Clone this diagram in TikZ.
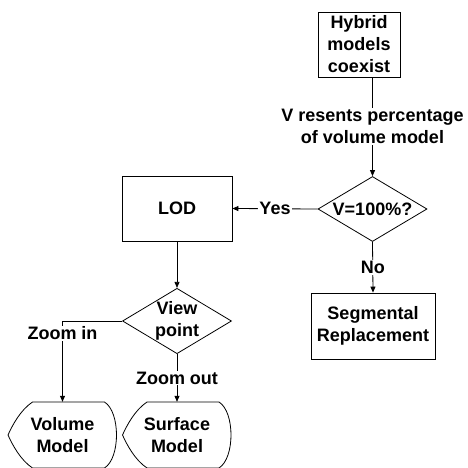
\documentclass[tikz,border=0pt]{standalone}
\usepackage{fontspec}
\setmainfont{Liberation Sans}
\usetikzlibrary{shapes.geometric,arrows.meta}
\newcommand{\modelshape}[1]{\draw[line width=0.8pt,shift={(#1.center)}] (-30,-33) -- (42,-33) .. controls (58,-23) and (58,23) .. (42,33) -- (-30,33) .. controls (-42,25) and (-50,10) .. (-54.5,0) .. controls (-50,-10) and (-42,-25) .. (-30,-33) -- cycle;}
\begin{document}
\begin{tikzpicture}[x=1pt,y=-1pt,
  every node/.style={font=\bfseries\fontsize{18}{22}\selectfont},
  box/.style={draw,line width=0.8pt,align=center,inner sep=0pt,minimum height=65pt},
  choice/.style={draw,diamond,aspect=1.65,line width=0.8pt,align=center,inner sep=0pt,minimum width=109pt,minimum height=65pt},
  result/.style={align=center,inner sep=0pt,minimum width=110pt,minimum height=66pt},
  lbl/.style={fill=white,inner sep=1pt,align=center},
  link/.style={line width=0.8pt,-{Triangle[length=6pt,width=5pt]}}]
	\useasboundingbox (0,0) rectangle (467,468);
	\clip (0,0) rectangle (467,468);
	\node[box,minimum width=82pt] (hyb) at (359,44.5) {Hybrid\\models\\coexist};
	\node[choice] (vq) at (372.5,209) {V=100\%?};
	\node[box,minimum width=110pt] (lod) at (177,208.5) {LOD};
	\node[box,minimum width=124pt,minimum height=66pt] (seg) at (373,326) {Segmental\\Replacement};
	\node[choice,minimum height=64pt] (vp) at (177,321) {View\\point};
	\node[result] (vol) at (62.5,435) {Volume\\Model};
	\node[result] (surf) at (177,435) {Surface\\Model};
	\modelshape{vol}
	\modelshape{surf}
	\draw[link] (hyb.south -| vq.north) -- node[lbl]{V resents percentage\\of volume model} (vq.north);
	\draw[link] (vq.west) -- node[lbl]{Yes} (lod.east);
	\draw[link] (vq.south) -- node[lbl]{No} (seg.north);
	\draw[link] (lod.south) -- (vp.north);
	\draw[link] (vp.west) -| node[lbl,pos=0.575]{Zoom in} (vol.north);
	\draw[link] (vp.south) -- node[lbl]{Zoom out} (surf.north);
\end{tikzpicture}
\end{document}
